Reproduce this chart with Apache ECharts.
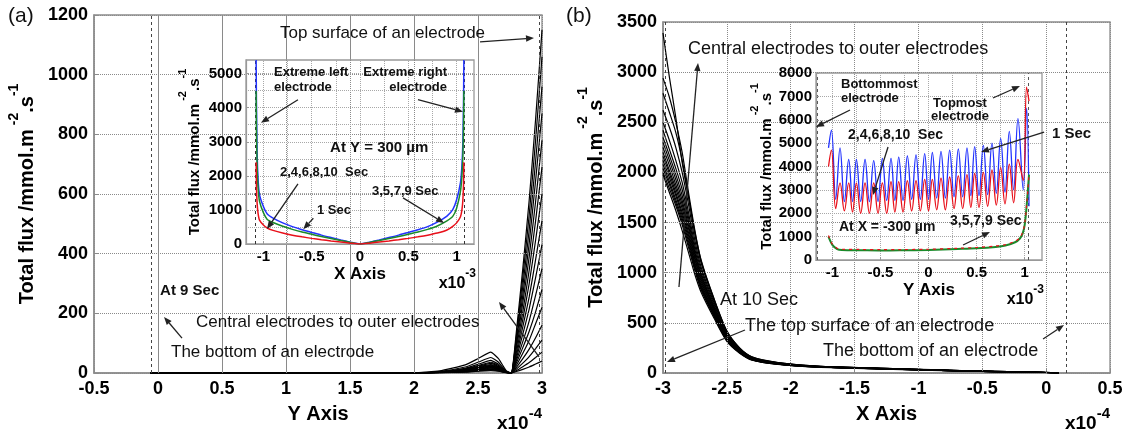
<!DOCTYPE html>
<html><head><meta charset="utf-8">
<script src="https://cdn.jsdelivr.net/npm/echarts@6/dist/echarts.min.js"></script>
<style>html,body{margin:0;padding:0;background:#fff}#c{width:1126px;height:433px}</style>
</head><body><div id="c"></div>
<script>
// ---------- panel (a): flux along the electrode height ----------
const aX = [-0.06, 2.0, 2.2, 2.4, 2.5, 2.6, 2.66, 2.72, 2.76, 2.8, 2.85, 2.9, 2.95, 3.0];
const aLines = [
  [0, 0, 1, 3, 6, 8, 6, 1, 0, 140, 350, 580, 850, 1150],
  [0, 0, 1, 4, 7, 10, 7, 1, 0, 125, 320, 530, 780, 1060],
  [0, 0, 1, 5, 8, 12, 8, 1, 0, 115, 290, 480, 710, 960],
  [0, 0, 1, 5, 10, 14, 10, 2, 0, 105, 260, 435, 645, 870],
  [0, 0, 2, 6, 11, 16, 11, 2, 0, 95, 235, 390, 575, 780],
  [0, 0, 2, 7, 12, 18, 12, 2, 0, 85, 205, 345, 510, 690],
  [0, 0, 2, 8, 14, 20, 14, 2, 0, 70, 180, 300, 445, 600],
  [0, 0, 2, 9, 15, 22, 15, 3, 0, 60, 155, 255, 380, 510],
  [0, 0, 2, 10, 17, 24, 17, 3, 0, 50, 130, 215, 320, 430],
  [0, 0, 3, 10, 18, 26, 18, 3, 0, 42, 105, 175, 260, 350],
  [0, 0, 3, 11, 20, 28, 20, 3, 0, 34, 85, 140, 205, 280],
  [0, 0, 3, 13, 22, 32, 22, 4, 0, 26, 66, 110, 165, 220],
  [0, 0, 4, 14, 25, 36, 25, 4, 0, 19, 48, 80, 118, 160],
  [0, 0, 4, 16, 29, 42, 29, 5, 0, 13, 33, 55, 82, 110],
  [0, 1, 5, 20, 36, 52, 36, 6, 0, 8, 21, 35, 52, 70],
  [0, 1, 7, 27, 48, 70, 48, 8, 0, 5, 12, 20, 30, 40]
];
const aMarkers = [-0.05, 2.985];

// inset (a): flux across the array at Y = 300 µm
const aInX = [-1.075, -1.072, -1.065, -1.055, -1.04, -1.0, -0.96, -0.9, -0.8, -0.7, -0.6, -0.5, -0.4, -0.3, -0.2, -0.1, 0,
  0.1, 0.2, 0.3, 0.4, 0.5, 0.6, 0.7, 0.8, 0.9, 0.96, 1.0, 1.04, 1.055, 1.065, 1.072, 1.075];
const aInBlue = [5400, 4200, 2700, 1900, 1450, 1100, 880, 760, 620, 510, 420, 340, 260, 190, 120, 55, 0,
  55, 120, 190, 260, 340, 420, 510, 640, 820, 1010, 1300, 1800, 2300, 3000, 4300, 5400];
const aInGreen = [4500, 3400, 2300, 1650, 1250, 920, 720, 630, 520, 430, 350, 285, 220, 160, 100, 45, 0,
  45, 100, 160, 220, 285, 350, 430, 530, 680, 810, 1050, 1550, 2000, 2600, 3500, 4500];
const aInRed = [2400, 1700, 1200, 900, 700, 560, 470, 400, 320, 260, 210, 165, 125, 90, 57, 25, 0,
  25, 57, 90, 125, 165, 210, 260, 320, 410, 520, 620, 800, 1000, 1300, 1800, 2400];
const aInMarkers = [-1.078, 1.078];

// ---------- panel (b): flux along the array width ----------
const bX = [-3.0, -2.95, -2.9, -2.85, -2.8, -2.75, -2.7, -2.6, -2.5, -2.4, -2.3, -2.1, -1.8, -1.2, -0.6, 0, 0.1];
const bLines = [
  [3390, 2950, 2550, 2100, 1750, 1400, 1120, 740, 420, 250, 160, 105, 70, 45, 22, 6, 0],
  [2940, 2750, 2500, 2200, 1800, 1420, 1110, 735, 415, 248, 158, 104, 69, 44, 22, 6, 0],
  [2790, 2600, 2400, 2120, 1760, 1380, 1090, 720, 410, 245, 155, 102, 68, 43, 21, 5, 0],
  [2620, 2450, 2250, 2000, 1680, 1320, 1050, 700, 400, 240, 152, 100, 67, 43, 21, 5, 0],
  [2500, 2320, 2120, 1900, 1600, 1270, 1020, 680, 390, 235, 150, 99, 66, 42, 20, 5, 0],
  [2420, 2230, 2040, 1830, 1550, 1230, 990, 660, 380, 230, 147, 97, 65, 42, 20, 5, 0],
  [2350, 2170, 1980, 1770, 1510, 1200, 970, 650, 372, 226, 144, 96, 64, 41, 20, 5, 0],
  [2300, 2120, 1930, 1720, 1470, 1180, 950, 640, 365, 222, 141, 95, 63, 40, 19, 5, 0],
  [2250, 2070, 1880, 1680, 1440, 1150, 930, 625, 358, 219, 139, 94, 63, 40, 19, 5, 0],
  [2200, 2020, 1840, 1640, 1400, 1130, 910, 615, 352, 216, 137, 92, 62, 40, 19, 5, 0],
  [2160, 1990, 1800, 1600, 1370, 1100, 890, 600, 346, 213, 135, 91, 62, 39, 19, 5, 0],
  [2120, 1950, 1770, 1570, 1340, 1080, 870, 590, 340, 210, 134, 90, 61, 39, 19, 5, 0],
  [2080, 1910, 1730, 1540, 1310, 1060, 855, 580, 334, 207, 132, 89, 61, 39, 18, 5, 0],
  [2040, 1880, 1700, 1510, 1280, 1040, 840, 570, 328, 204, 130, 88, 60, 38, 18, 5, 0],
  [2000, 1840, 1670, 1480, 1250, 1020, 825, 560, 322, 201, 129, 87, 60, 38, 18, 5, 0],
  [1980, 1800, 1620, 1420, 1200, 980, 800, 545, 315, 198, 127, 86, 59, 37, 18, 5, 0]
];
const bMarkers = [-2.985, 0.16];

// inset (b): flux along the array height at X = -300 µm
const bInX = [-1.04, -1.01, -0.965, -0.92, -0.875, -0.83, -0.79, -0.75, -0.705, -0.66,
  -0.615, -0.57, -0.525, -0.48, -0.435, -0.39, -0.35, -0.31, -0.265, -0.22,
  -0.175, -0.13, -0.085, -0.04, 0.0, 0.04, 0.085, 0.13, 0.175, 0.22,
  0.265, 0.31, 0.355, 0.40, 0.44, 0.48, 0.525, 0.57, 0.615, 0.66,
  0.705, 0.75, 0.795, 0.84, 0.885, 0.93, 0.985, 1.02, 1.045];
const bInBlue = [4800, 5550, 2600, 4800, 2500, 4300, 2500, 4300, 2500, 4300,
  2500, 4250, 2500, 4350, 2550, 4350, 2550, 4400, 2550, 4450,
  2600, 4500, 2600, 4550, 2600, 4600, 2650, 4650, 2650, 4700,
  2700, 4750, 2700, 4800, 2750, 4850, 2750, 4900, 2800, 5000,
  2850, 5200, 2900, 5500, 3000, 6050, 3000, 6500, 2300];
const bInRed = [4000, 4700, 2200, 3300, 2100, 3300, 2050, 3300, 2000, 3300,
  2000, 3300, 2000, 3300, 2000, 3350, 2050, 3350, 2050, 3400,
  2100, 3400, 2100, 3450, 2100, 3450, 2150, 3500, 2150, 3550,
  2200, 3600, 2200, 3650, 2250, 3700, 2250, 3750, 2300, 3850,
  2350, 3950, 2400, 4100, 2450, 4300, 3400, 7400, 6800];
const bInLowX = [-1.04, -1.0, -0.95, -0.9, -0.7, -0.5, -0.3, 0, 0.3, 0.5, 0.7, 0.8, 0.9, 0.95, 0.98, 1.0, 1.02, 1.045];
const bInLowGreen = [1000, 650, 470, 430, 420, 410, 415, 430, 470, 500, 560, 620, 760, 920, 1150, 1500, 2300, 3650];
const bInLowRed = [1050, 680, 500, 460, 450, 440, 445, 460, 500, 535, 600, 660, 800, 960, 1200, 1550, 2350, 3650];
const bInMarkers = [-1.155, 1.045];

// tick values and grid-line positions
const mainAxTicks = { aX: [-0.5, 3, 0.5], aY: [0, 1200, 200], bX: [-3, 0.5, 0.5], bY: [0, 3500, 500] };
const aGridX = [0, 0.5, 1, 1.5, 2, 2.5];
const aGridY = [200, 400, 600, 800, 1000];
const bGridX = [-2.5, -2, -1.5, -1, -0.5, 0];
const bGridY = [500, 1000, 1500, 2000, 2500, 3000];
const insetXLabels = [-1, -0.5, 0, 0.5, 1];
const insetXGrid = [-1, -0.75, -0.5, -0.25, 0, 0.25, 0.5, 0.75, 1];
const insetAYLabels = [0, 1000, 2000, 3000, 4000, 5000];
const insetAYGrid = [500, 1000, 1500, 2000, 2500, 3000, 3500, 4000, 4500, 5000];
const insetBYLabels = [0, 1000, 2000, 3000, 4000, 5000, 6000, 7000, 8000];
const insetBYGrid = [1000, 2000, 3000, 4000, 5000, 6000, 7000];

const FONT = "'Liberation Sans', Arial, sans-serif";
const BLUE = '#2233ff', RED = '#e8101a', GREEN = '#1a8a2a';
const pairs = (xs, ys) => xs.map((x, i) => [x, ys[i]]);
const fmt = v => String(v);

function supName(size, subSize) {
  return {
    rich: {
      b: { fontSize: size, fontWeight: 'bold', fontFamily: FONT, color: '#000', lineHeight: size + 10, verticalAlign: 'bottom' },
      s: { fontSize: subSize, fontWeight: 'bold', fontFamily: FONT, color: '#000', lineHeight: subSize, verticalAlign: 'top' }
    }
  };
}
const yName = '{b|Total flux /mmol.m}{s| -2}{b|.s}{s|-1}';
const dotted = (c) => ({ show: true, lineStyle: { color: c, type: [1, 1], width: 1 } });

function mainX(idx, t, name) {
  return {
    type: 'value', gridIndex: idx, min: t[0], max: t[1], interval: t[2],
    name, nameLocation: 'middle', nameGap: 31,
    nameTextStyle: { fontSize: 20, fontWeight: 'bold', fontFamily: FONT, color: '#000' },
    axisLine: { onZero: false, lineStyle: { color: '#8c8c8c', width: 1.5 } },
    axisTick: { inside: true, length: 5, lineStyle: { color: '#8c8c8c' } },
    axisLabel: { fontSize: 18, fontWeight: 'bold', fontFamily: FONT, color: '#000', margin: 7, formatter: fmt },
    splitLine: dotted('#8a8a8a')
  };
}
function mainY(idx, t) {
  return {
    type: 'value', gridIndex: idx, min: t[0], max: t[1], interval: t[2],
    name: yName, nameLocation: 'middle', nameGap: 57, nameRotate: 90,
    nameTextStyle: supName(20, 14),
    axisLine: { show: true, onZero: false, lineStyle: { color: '#8c8c8c', width: 1.5 } },
    axisTick: { show: true, inside: true, length: 5, lineStyle: { color: '#8c8c8c' } },
    axisLabel: { fontSize: 18, fontWeight: 'bold', fontFamily: FONT, color: '#000', margin: 6, formatter: fmt },
    splitLine: dotted('#8a8a8a')
  };
}
function insetX(idx, min, max, name) {
  return {
    type: 'value', gridIndex: idx, min, max, z: 6,
    name, nameLocation: 'middle', nameGap: 22,
    nameTextStyle: { fontSize: 17, fontWeight: 'bold', fontFamily: FONT, color: '#000' },
    axisLine: { onZero: false, lineStyle: { color: '#999', width: 1.2 } },
    axisTick: { inside: true, length: 3, customValues: insetXLabels, lineStyle: { color: '#999' } },
    axisLabel: { customValues: insetXLabels, fontSize: 15, fontWeight: 'bold', fontFamily: FONT, color: '#000', margin: 5, formatter: fmt },
    splitLine: { show: false }
  };
}
function insetY(idx, max, labels, gap) {
  return {
    type: 'value', gridIndex: idx, min: 0, max, z: 6,
    name: yName, nameLocation: 'middle', nameGap: gap, nameRotate: 90,
    nameTextStyle: supName(15, 11),
    axisLine: { show: true, onZero: false, lineStyle: { color: '#999', width: 1.2 } },
    axisTick: { show: true, inside: true, length: 3, customValues: labels, lineStyle: { color: '#999' } },
    axisLabel: { customValues: labels, fontSize: 15, fontWeight: 'bold', fontFamily: FONT, color: '#000', margin: 4, formatter: fmt },
    splitLine: { show: false }
  };
}
function markers(values, color) {
  return {
    symbol: ['none', 'none'], silent: true, label: { show: false },
    lineStyle: { type: [3, 3], color, width: 1, opacity: 1 },
    data: values.map(v => ({ xAxis: v }))
  };
}
// dotted grid drawn as mark lines on a one-point carrier series (a single point draws no line)
function gridLines(i, xs, ys, color, z) {
  return {
    type: 'line', xAxisIndex: i, yAxisIndex: i, data: [[xs[0], ys[0]]], symbol: 'none', showSymbol: false, silent: true, z,
    lineStyle: { color, width: 1 },
    markLine: {
      symbol: ['none', 'none'], silent: true, label: { show: false },
      lineStyle: { type: [1, 1], color, width: 1, opacity: 1 },
      data: xs.map(v => ({ xAxis: v })).concat(ys.map(v => ({ yAxis: v })))
    }
  };
}

const series = [
  gridLines(0, aGridX, aGridY, '#8a8a8a', 1),
  gridLines(1, bGridX, bGridY, '#8a8a8a', 1),
  gridLines(2, insetXGrid, insetAYGrid, '#a8a8a8', 5),
  gridLines(3, insetXGrid, insetBYGrid, '#a8a8a8', 5)
];
aLines.forEach((ys, i) => series.push({
  type: 'line', xAxisIndex: 0, yAxisIndex: 0, data: pairs(aX, ys), symbol: 'none', smooth: 0.15,
  lineStyle: { color: '#000', width: 1.2 }, z: 2,
  markLine: i === 0 ? markers(aMarkers, '#444') : undefined
}));
bLines.forEach((ys, i) => series.push({
  type: 'line', xAxisIndex: 1, yAxisIndex: 1, data: pairs(bX, ys), symbol: 'none', smooth: 0.25,
  lineStyle: { color: '#000', width: 1.2 }, z: 2,
  markLine: i === 0 ? markers(bMarkers, '#444') : undefined
}));
[[aInBlue, BLUE], [aInGreen, GREEN], [aInRed, RED]].forEach(([ys, c], i) => series.push({
  type: 'line', xAxisIndex: 2, yAxisIndex: 2, data: pairs(aInX, ys), symbol: 'none', smooth: 0.2,
  lineStyle: { color: c, width: 1.5 }, z: 7,
  markLine: i === 0 ? markers(aInMarkers, '#333') : undefined
}));
series.push({
  type: 'line', xAxisIndex: 3, yAxisIndex: 3, data: pairs(bInX, bInBlue), symbol: 'none', smooth: 0.4,
  lineStyle: { color: BLUE, width: 1.3 }, z: 7, markLine: markers(bInMarkers, '#555')
});
series.push({
  type: 'line', xAxisIndex: 3, yAxisIndex: 3, data: pairs(bInX, bInRed), symbol: 'none', smooth: 0.4,
  lineStyle: { color: RED, width: 1.3 }, z: 7
});
series.push({
  type: 'line', xAxisIndex: 3, yAxisIndex: 3, data: pairs(bInLowX, bInLowGreen), symbol: 'none', smooth: 0.3,
  lineStyle: { color: GREEN, width: 2 }, z: 7
});
series.push({
  type: 'line', xAxisIndex: 3, yAxisIndex: 3, data: pairs(bInLowX, bInLowRed), symbol: 'none', smooth: 0.3,
  lineStyle: { color: RED, width: 1.2, type: [3, 4] }, z: 7
});

const chart = echarts.init(document.getElementById('c'), null, { renderer: 'canvas' });
chart.setOption({
  animation: false,
  backgroundColor: '#fff',
  grid: [
    { left: 94, top: 15, width: 448, height: 358, show: false },
    { left: 663, top: 22, width: 447, height: 351, show: false },
    { left: 246, top: 60, width: 228, height: 184, show: false },
    { left: 816, top: 73, width: 226, height: 187, show: false }
  ],
  xAxis: [
    mainX(0, mainAxTicks.aX, 'Y Axis'),
    mainX(1, mainAxTicks.bX, 'X Axis'),
    insetX(2, -1.18, 1.18, 'X Axis'),
    insetX(3, -1.17, 1.18, 'Y Axis')
  ],
  yAxis: [
    mainY(0, mainAxTicks.aY),
    mainY(1, mainAxTicks.bY),
    insetY(2, 5400, insetAYLabels, 44),
    insetY(3, 8000, insetBYLabels, 40)
  ],
  series
});

// ---------- frames and annotations, placed in data coordinates ----------
const px = (g, p) => chart.convertToPixel({ gridIndex: g }, p);
function frame(g, lo, hi, color, fill, z) {
  const p0 = px(g, lo), p1 = px(g, hi);
  const style = { stroke: color, lineWidth: 1.3 };
  if (fill) style.fill = fill; else style.fill = 'transparent';
  return {
    type: 'rect', z, silent: true,
    shape: { x: p0[0], y: p1[1], width: p1[0] - p0[0], height: p0[1] - p1[1] },
    style
  };
}
function txt(g, p, s, size, opts = {}) {
  const q = px(g, p);
  return {
    type: 'text', x: q[0], y: q[1], z: 100, silent: true,
    style: {
      text: s, fill: '#111', fontSize: size, fontWeight: opts.weight || 'normal', fontFamily: FONT,
      align: opts.align || 'left', textAlign: opts.align || 'left',
      verticalAlign: 'middle', textVerticalAlign: 'middle'
    }
  };
}
function arrow(g, a, b) {
  const p0 = px(g, a), p1 = px(g, b);
  const dx = p1[0] - p0[0], dy = p1[1] - p0[1], L = Math.hypot(dx, dy);
  const ux = dx / L, uy = dy / L, h = 8, w = 3.2;
  const bx = p1[0] - ux * h, by = p1[1] - uy * h;
  return [
    { type: 'line', z: 100, silent: true, shape: { x1: p0[0], y1: p0[1], x2: bx, y2: by }, style: { stroke: '#222', lineWidth: 1.3 } },
    { type: 'polygon', z: 100, silent: true, shape: { points: [[p1[0], p1[1]], [bx - uy * w, by + ux * w], [bx + uy * w, by - ux * w]] }, style: { fill: '#222' } }
  ];
}
function expLabel(x, y, base, exp, size) {
  return {
    type: 'text', x, y, z: 100, silent: true,
    style: {
      text: '{b|' + base + '}{s|' + exp + '}', align: 'right', verticalAlign: 'middle',
      rich: {
        b: { fontSize: size, fontWeight: 'bold', fontFamily: FONT, fill: '#000', color: '#000', lineHeight: size + 8, verticalAlign: 'bottom' },
        s: { fontSize: size - 4, fontWeight: 'bold', fontFamily: FONT, fill: '#000', color: '#000', lineHeight: size - 4, verticalAlign: 'top' }
      }
    }
  };
}

const A = 17, B = 18, S = 13;
const g = [];
// plot frames; inset frames are filled white so they sit over the main grid
g.push(frame(0, [-0.5, 0], [3, 1200], '#8c8c8c', null, 1));
g.push(frame(1, [-3, 0], [0.5, 3500], '#8c8c8c', null, 1));
g.push(frame(2, [-1.18, 0], [1.18, 5400], '#999', '#fff', 4));
g.push(frame(3, [-1.17, 0], [1.18, 8000], '#999', '#fff', 4));
// panel (a)
g.push(txt(0, [0.953, 1140], 'Top surface of an electrode', A));
g.push(...arrow(0, [2.516, 1110], [2.9375, 1123]));
g.push(txt(0, [0.016, 275], 'At 9 Sec', 15, { weight: 'bold' }));
g.push(...arrow(0, [0.1875, 117], [0.047, 188]));
g.push(txt(0, [0.297, 171], 'Central electrodes to outer electrodes', A));
g.push(txt(0, [0.1016, 70], 'The bottom of an electrode', A));
g.push(...arrow(0, [2.977, 54], [2.664, 238]));
// inset (a)
g.push(txt(2, [-0.89, 5029], 'Extreme left', S, { weight: 'bold' }));
g.push(txt(2, [-0.89, 4588], 'electrode', S, { weight: 'bold' }));
g.push(...arrow(2, [-0.642, 4235], [-1.025, 3559]));
g.push(txt(2, [0.901, 5029], 'Extreme right', S, { weight: 'bold', align: 'right' }));
g.push(txt(2, [0.901, 4588], 'electrode', S, { weight: 'bold', align: 'right' }));
g.push(...arrow(2, [0.6, 4235], [1.066, 3882]));
g.push(txt(2, [-0.31, 2824], 'At Y = 300 µm', 15, { weight: 'bold' }));
g.push(txt(2, [-0.828, 2088], '2,4,6,8,10  Sec', S, { weight: 'bold' }));
g.push(...arrow(2, [-0.642, 1765], [-0.963, 441]));
g.push(txt(2, [-0.445, 1000], '1 Sec', S, { weight: 'bold' }));
g.push(...arrow(2, [-0.483, 756], [-0.587, 432]));
g.push(txt(2, [0.124, 1529], '3,5,7,9 Sec', S, { weight: 'bold' }));
g.push(...arrow(2, [0.445, 1353], [0.87, 618]));
// panel (b)
g.push(txt(1, [-2.804, 3231], 'Central electrodes to outer electrodes', B));
g.push(...arrow(1, [-2.875, 858], [-2.726, 3091]));
g.push(txt(1, [-2.554, 728], 'At 10 Sec', B));
g.push(txt(1, [-2.358, 469], 'The top surface of an electrode', B));
g.push(...arrow(1, [-2.358, 429], [-2.969, 110]));
g.push(txt(1, [-1.747, 219], 'The bottom of an electrode', B));
g.push(...arrow(1, [-0.024, 339], [0.14, 479]));
g.push(txt(1, [0.046, 2383], '1 Sec', 15, { weight: 'bold' }));
g.push(...arrow(1, [-0.016, 2403], [-0.51, 2204]));
// inset (b)
g.push(txt(3, [-0.91, 7529], 'Bottommost', S, { weight: 'bold' }));
g.push(txt(3, [-0.91, 6930], 'electrode', S, { weight: 'bold' }));
g.push(...arrow(3, [-0.816, 6417], [-1.17, 5690]));
g.push(txt(3, [0.327, 6716], 'Topmost', S, { weight: 'bold', align: 'center' }));
g.push(txt(3, [0.327, 6160], 'electrode', S, { weight: 'bold', align: 'center' }));
g.push(...arrow(3, [0.67, 6930], [0.951, 7444]));
g.push(txt(3, [-0.837, 5348], '2,4,6,8,10  Sec', 14, { weight: 'bold' }));
g.push(...arrow(3, [-0.421, 4834], [-0.577, 2781]));
g.push(txt(3, [-0.931, 1412], 'At X = -300 µm', 14, { weight: 'bold' }));
g.push(txt(3, [0.223, 1668], '3,5,7,9 Sec', 14, { weight: 'bold' }));
g.push(...arrow(3, [0.359, 642], [0.639, 1198]));

// panel letters and axis multipliers
g.push({ type: 'text', x: 8, y: 16, z: 100, silent: true, style: { text: '(a)', fontSize: 21, fontFamily: FONT, fill: '#111', verticalAlign: 'middle', textVerticalAlign: 'middle' } });
g.push({ type: 'text', x: 566, y: 16, z: 100, silent: true, style: { text: '(b)', fontSize: 21, fontFamily: FONT, fill: '#111', verticalAlign: 'middle', textVerticalAlign: 'middle' } });
const ca = px(0, [3, 0]), cb = px(1, [0.5, 0]), ia = px(2, [1.18, 0]), ib = px(3, [1.18, 0]);
g.push(expLabel(ca[0], ca[1] + 47, 'x10', '-4', 19));
g.push(expLabel(cb[0], cb[1] + 47, 'x10', '-4', 19));
g.push(expLabel(ia[0] + 2, ia[1] + 36, 'x10', '-3', 16));
g.push(expLabel(ib[0] + 2, ib[1] + 36, 'x10', '-3', 16));

chart.setOption({ graphic: g });
</script>
</body></html>
